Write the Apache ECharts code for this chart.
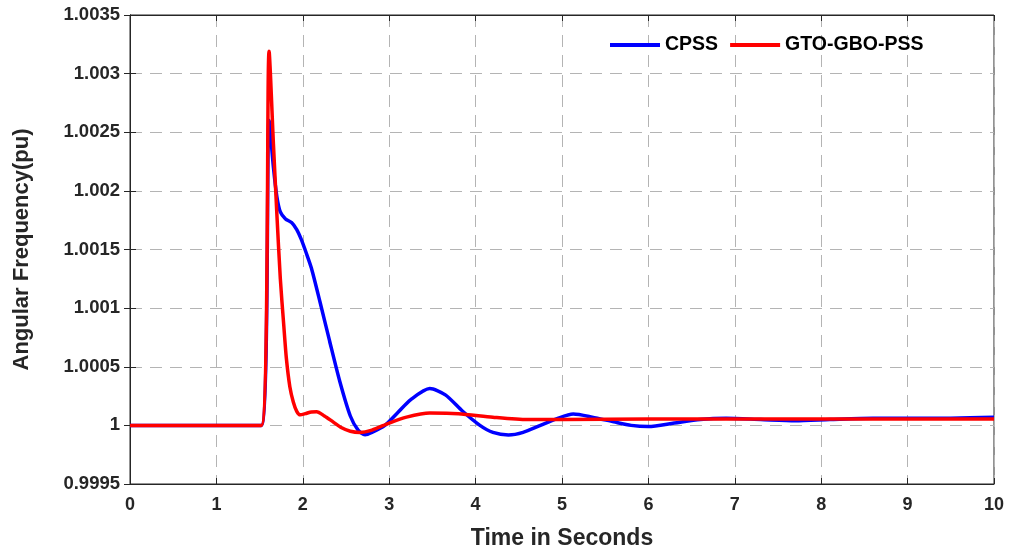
<!DOCTYPE html>
<html>
<head>
<meta charset="utf-8">
<script src="https://cdn.jsdelivr.net/npm/echarts@6/dist/echarts.min.js"></script>
<style>
  html, body { margin: 0; padding: 0; background: #fff; }
  #main { width: 1012px; height: 555px; }
</style>
</head>
<body>
<div id="main"></div>
<script>
// values
const cpssTime = [0, 1.52, 1.61, 1.66, 1.70, 1.74, 1.80, 1.87, 1.93, 1.98, 2.04, 2.10, 2.20, 2.31, 2.43, 2.55, 2.64, 2.72, 2.80, 2.95, 3.10, 3.25, 3.47, 3.65, 3.85, 4.05, 4.20, 4.38, 4.55, 4.75, 4.95, 5.13, 5.35, 5.60, 5.80, 6.00, 6.30, 6.60, 6.90, 7.30, 7.70, 8.10, 8.60, 9.20, 10];
const cpssValue = [1, 1, 1.0026, 1.0022, 1.00195, 1.00182, 1.00176, 1.00173, 1.00167, 1.00159, 1.00147, 1.00134, 1.00105, 1.00072, 1.00037, 1.00008, 0.99996, 0.99992, 0.99994, 1.0, 1.00011, 1.00022, 1.000314, 1.00026, 1.00012, 1.0, 0.99994, 0.999918, 0.99994, 1.0, 1.00006, 1.000096, 1.00007, 1.00003, 1.0, 0.99999, 1.00002, 1.00005, 1.00006, 1.00005, 1.00004, 1.00005, 1.00006, 1.00006, 1.00007];

const gtoTime = [0, 1.52, 1.61, 1.66, 1.70, 1.74, 1.78, 1.81, 1.85, 1.89, 1.93, 1.97, 2.03, 2.10, 2.16, 2.25, 2.35, 2.45, 2.55, 2.66, 2.80, 3.00, 3.20, 3.47, 3.80, 4.20, 4.60, 5.00, 6.00, 8.00, 10];
const gtoValue = [1, 1, 1.00319, 1.0024, 1.0018, 1.00125, 1.00085, 1.00057, 1.00033, 1.0002, 1.00012, 1.00009, 1.0001, 1.000115, 1.000116, 1.00008, 1.00003, 0.99998, 0.99995, 0.99994, 0.99996, 1.00002, 1.00007, 1.000105, 1.0001, 1.00007, 1.00005, 1.00005, 1.000054, 1.000054, 1.000054];

const seriesNames = ['CPSS', 'GTO-GBO-PSS'];
const xTicks = { min: 0, max: 10, step: 1 };
const yTicks = { min: 0.9995, max: 1.0035, step: 0.0005 };

const pair = (t, v) => t.map((x, i) => [x, v[i]]);
const font = 'Liberation Sans, Arial, sans-serif';
const ink = '#262626';
const gridLine = { show: true, lineStyle: { color: '#b4b4b4', type: [12, 8], width: 1 } };

option = {
    backgroundColor: '#fff',
    animation: false,
    grid: { left: 130, right: 18, top: 15, bottom: 69, show: true, borderColor: ink, borderWidth: 1 },
    legend: {
        data: seriesNames,
        top: 30,
        left: 605,
        icon: 'rect',
        itemWidth: 50,
        itemHeight: 4,
        itemGap: 12,
        textStyle: { fontFamily: font, fontWeight: 'bold', fontSize: 19.5, color: '#000' }
    },
    xAxis: [{
        type: 'value',
        min: xTicks.min, max: xTicks.max, interval: xTicks.step,
        name: 'Time in Seconds',
        nameLocation: 'middle',
        nameGap: 43,
        nameTextStyle: { fontFamily: font, fontWeight: 'bold', fontSize: 23, color: ink },
        axisLine: { lineStyle: { color: ink } },
        axisTick: { inside: true, length: 6, lineStyle: { color: ink } },
        axisLabel: { fontFamily: font, fontWeight: 'bold', fontSize: 18, color: ink, margin: 12 },
        splitLine: gridLine
    }, {
        type: 'value', position: 'top',
        min: xTicks.min, max: xTicks.max, interval: xTicks.step,
        axisLine: { lineStyle: { color: ink } },
        axisTick: { inside: true, length: 6, lineStyle: { color: ink } },
        axisLabel: { show: false },
        splitLine: { show: false }
    }],
    yAxis: [{
        type: 'value',
        min: yTicks.min, max: yTicks.max, interval: yTicks.step,
        name: 'Angular Frequency(pu)',
        nameLocation: 'middle',
        nameGap: 97,
        nameTextStyle: { fontFamily: font, fontWeight: 'bold', fontSize: 22, color: ink },
        axisLine: { show: true, lineStyle: { color: ink } },
        axisTick: { show: true, inside: true, length: 6, lineStyle: { color: ink } },
        axisLabel: {
            fontFamily: font, fontWeight: 'bold', fontSize: 18.5, color: ink, margin: 10,
            formatter: v => String(parseFloat(v.toFixed(4)))
        },
        splitLine: gridLine
    }, {
        type: 'value', position: 'right',
        min: yTicks.min, max: yTicks.max, interval: yTicks.step,
        axisLine: { show: true, lineStyle: { color: ink } },
        axisTick: { show: true, inside: true, length: 6, lineStyle: { color: ink } },
        axisLabel: { show: false },
        splitLine: { show: false }
    }],
    series: [{
        name: seriesNames[0],
        type: 'line',
        data: pair(cpssTime, cpssValue),
        showSymbol: false,
        smooth: 0.25,
        color: '#0000ff',
        lineStyle: { width: 3.5, color: '#0000ff' },
        z: 2
    }, {
        name: seriesNames[1],
        type: 'line',
        data: pair(gtoTime, gtoValue),
        showSymbol: false,
        smooth: 0.25,
        color: '#ff0000',
        lineStyle: { width: 3.5, color: '#ff0000' },
        z: 3
    }]
};

const chart = echarts.init(document.getElementById('main'));
chart.setOption(option);
</script>
</body>
</html>
